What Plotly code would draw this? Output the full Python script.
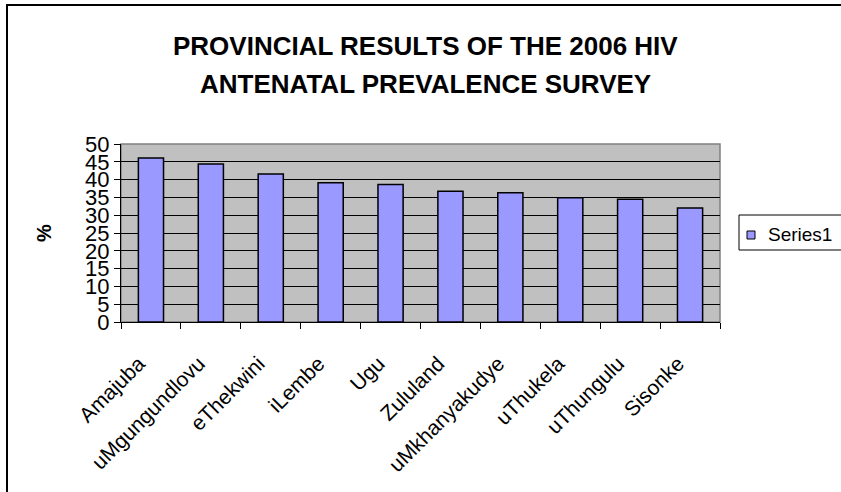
import plotly.graph_objects as go

# KwaZulu-Natal districts, 2006 antenatal HIV prevalence (%)
districts = ["Amajuba", "uMgungundlovu", "eThekwini", "iLembe", "Ugu",
             "Zululand", "uMkhanyakudye", "uThukela", "uThungulu", "Sisonke"]
prevalence = [46.1, 44.4, 41.6, 39.1, 38.6, 36.7, 36.3, 34.9, 34.5, 32.0]
y_ticks = list(range(0, 55, 5))
series_name = "Series1"

W, H = 841, 492
L, R, T, B = 121, 720, 144, 322  # plot-area edges in pixels


def px_x(x):
    return (x - L) / (R - L)


def px_y(y):
    return (B - y) / (B - T)


FONT = "Arial, Liberation Sans, sans-serif"
BAR_FILL = "#9999FF"

fig = go.Figure(
    go.Bar(
        x=districts,
        y=prevalence,
        name=series_name,
        marker=dict(color=BAR_FILL, line=dict(color="black", width=1.5)),
        width=0.42,
        showlegend=False,
    )
)

fig.update_layout(
    width=W,
    height=H,
    margin=dict(l=L, r=W - R, t=T, b=H - B, autoexpand=False),
    paper_bgcolor="white",
    plot_bgcolor="#C0C0C0",
    font=dict(family=FONT, color="black"),
    bargap=0.58,
)

fig.update_xaxes(
    type="category",
    tickangle=-45,
    tickfont=dict(size=21, family=FONT),
    ticks="outside", ticklen=6, tickcolor="black", tickwidth=1,
    tickson="boundaries",
    showline=True, linecolor="black", linewidth=1,
    showgrid=False,
    ticklabelstandoff=20,
    ticklabelshift=-12,
)

fig.update_yaxes(
    range=[0, 50],
    tickvals=y_ticks,
    tickfont=dict(size=22, family=FONT),
    ticks="outside", ticklen=6, tickcolor="black", tickwidth=1,
    showline=True, linecolor="black", linewidth=1,
    showgrid=True, gridcolor="black", gridwidth=1,
    zeroline=False,
    title=dict(text="<b>%</b>", font=dict(size=20, family=FONT), standoff=28),
)

# Plot-area outline (grey) and the outer chart frame
fig.add_shape(type="rect", xref="paper", yref="paper", x0=0, x1=1, y0=0, y1=1,
              line=dict(color="#808080", width=1.5), layer="below")
fig.add_shape(type="rect", xref="paper", yref="paper",
              x0=px_x(7), x1=px_x(850), y0=px_y(500), y1=px_y(5),
              line=dict(color="black", width=2))

# Legend box with a swatch and the series name
fig.add_shape(type="rect", xref="paper", yref="paper",
              x0=px_x(739), x1=px_x(860), y0=px_y(250), y1=px_y(215),
              line=dict(color="black", width=1), fillcolor="white")
fig.add_shape(type="rect", xref="paper", yref="paper",
              x0=px_x(747), x1=px_x(755), y0=px_y(239), y1=px_y(231),
              line=dict(color="black", width=1), fillcolor=BAR_FILL)
fig.add_annotation(text=series_name, xref="paper", yref="paper",
                   x=px_x(766), y=px_y(234), xanchor="left", yanchor="middle",
                   showarrow=False, font=dict(size=19, family=FONT))

# Two-line chart title
for text, ypx in [("PROVINCIAL RESULTS OF THE 2006 HIV", 46),
                  ("ANTENATAL PREVALENCE SURVEY", 84)]:
    fig.add_annotation(text=f"<b>{text}</b>", xref="paper", yref="paper",
                       x=px_x(425), y=px_y(ypx), xanchor="center", yanchor="middle",
                       showarrow=False, font=dict(size=26, family=FONT))

fig.write_html("out.html")
